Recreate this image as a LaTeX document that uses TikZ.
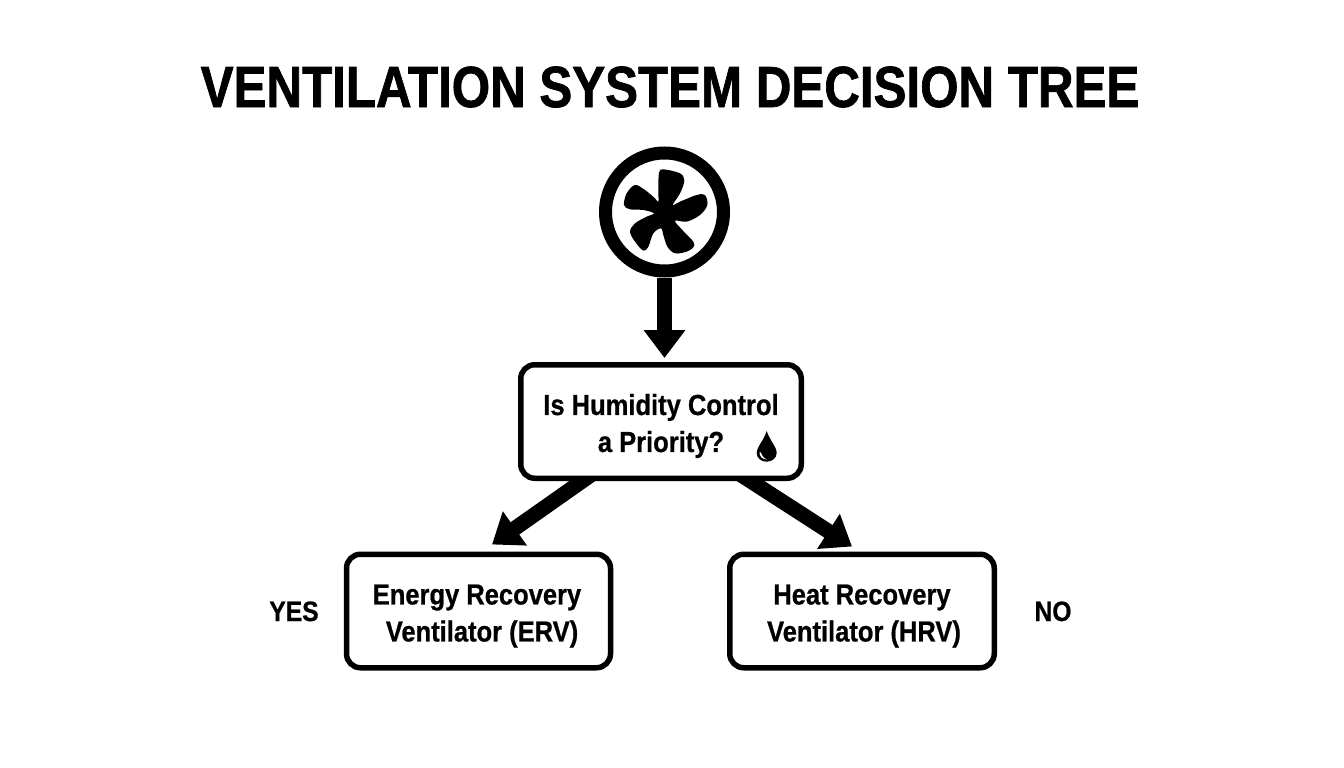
\documentclass[tikz,border=0pt]{standalone}
\usepackage{fontspec}
\setmainfont[FakeStretch=0.88,BoldFeatures={FakeBold=0.7}]{Liberation Sans}
\newfontfamily\titlefont[UprightFeatures={FakeBold=1.2},UprightFont=* Bold,FakeStretch=0.85]{Liberation Sans}
\usetikzlibrary{arrows.meta,calc}
\pgfdeclarelayer{under}
\pgfsetlayers{under,main}
\tikzset{
  box/.style={draw=black,line width=5.5pt,rounded corners=14pt,fill=white,align=center,inner sep=0pt,font=\bfseries\fontsize{29}{37}\selectfont,text=black},
  flow/.style={line width=15pt,draw=black,-{Triangle[width=40pt,length=28pt]}},
  side/.style={font=\bfseries\fontsize{28}{32}\selectfont,anchor=base,inner sep=0pt},
}
\begin{document}
\begin{tikzpicture}[x=1pt,y=-1pt]
\useasboundingbox (0,0) rectangle (1344,768);
\node[anchor=base,inner sep=0pt,font=\titlefont\fontsize{58}{60}\selectfont] (title) at (670,107) {VENTILATION SYSTEM DECISION TREE};
% boxes
\node[box,minimum width=280.5pt,minimum height=113.5pt] (q) at (661,421.5) {\rule{0pt}{30pt}Is Humidity Control\\a Priority?};
\node[box,minimum width=264pt,minimum height=113.5pt] (erv) at (478.5,611) {\rule{0pt}{30pt}\hspace*{-3pt}Energy Recovery\\\hspace*{7pt}Ventilator (ERV)};
\node[box,minimum width=264.5pt,minimum height=113.5pt] (hrv) at (862,611) {\rule{0pt}{30pt}Heat Recovery\\\hspace*{4pt}Ventilator (HRV)};
% fan
\node[circle,draw=black,line width=13pt,minimum size=118pt,inner sep=0pt] (fan) at (664.5,212) {};
\begin{scope}[x=0.33333pt,y=-0.33333pt,shift={(580pt,-130pt)}]
  \fill[black] plot[smooth cycle,tension=.55] coordinates {
    (235,180)(237,128)(250,118)(300,130)(313,152)(300,190)(278,225)
    (300,215)(350,195)(375,195)(382,225)(360,255)(320,275)(285,272)
    (305,298)(340,335)(340,352)(320,365)(285,370)(262,350)(250,315)(243,295)
    (220,310)(205,350)(190,362)(165,335)(150,305)(165,280)(200,260)(222,250)
    (190,240)(150,238)(132,225)(140,190)(165,165)(195,180)(225,205)(235,215)};
\end{scope}
% connectors
\begin{pgfonlayer}{under}
\draw[flow] (fan.south) -- ($(q.north)+(3.5,-4)$);
\draw[flow] ($(q.south)+(-64.5,-10)$) -- ($(erv.north)+(13.5,-7)$);
\draw[flow] ($(q.south)+(74,-10)$) -- ($(hrv.north)+(-10,-5)$);
\end{pgfonlayer}
% drop
\fill[black] (766.7,431) .. controls (764,440) and (756.7,447) .. (756.7,453)
  .. controls (756.7,458) and (761,461.7) .. (766.7,461.7)
  .. controls (772,461.7) and (776.7,458) .. (776.7,453)
  .. controls (776.7,447) and (769.5,440) .. (766.7,431) -- cycle;
\fill[white] (759.5,452.5) .. controls (759.5,456.5) and (762.5,459.5) .. (767,459.5)
  .. controls (763.5,458) and (762,456) .. (761,453) .. controls (760.7,452) and (759.6,451.5) .. (759.5,452.5) -- cycle;
% side labels
\node[side] (yes) at (294,621) {YES};
\node[side] (no) at (1053,621) {NO};
\end{tikzpicture}
\end{document}
